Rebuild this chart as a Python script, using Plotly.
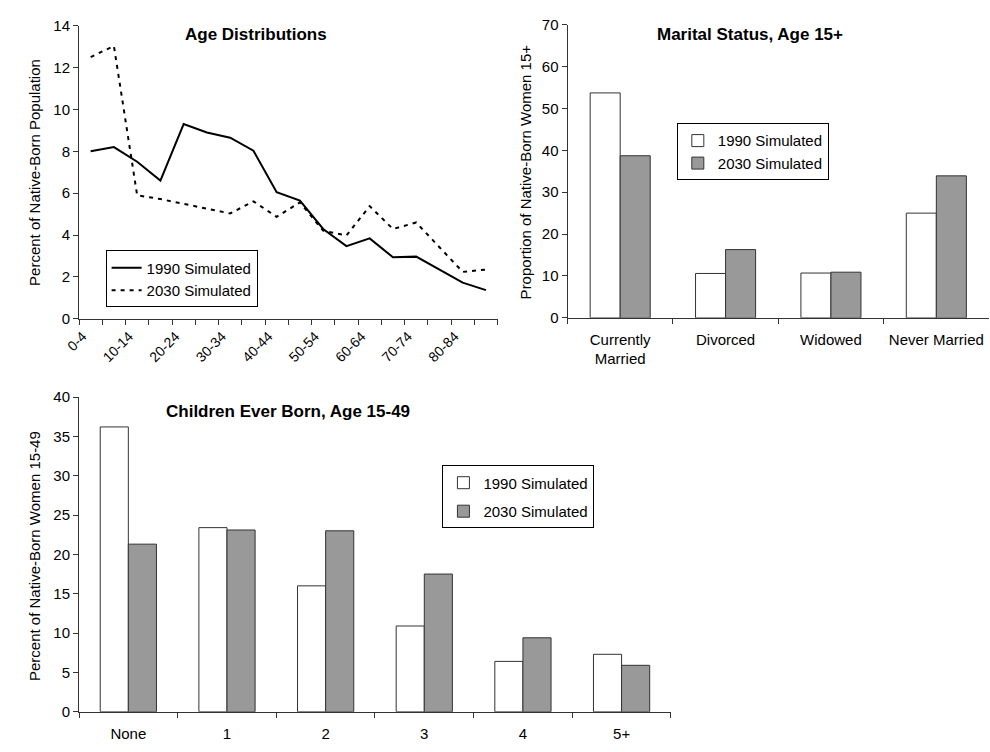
import plotly.graph_objects as go

W, H = 990, 752
FONT = "Liberation Sans, Arial, sans-serif"
AXIS_COLOR = "#333333"
BAR_GREY = "#999999"

# ---- Age distributions (percent of native-born population) ----
age_groups = ["0-4", "5-9", "10-14", "15-19", "20-24", "25-29", "30-34", "35-39",
              "40-44", "45-49", "50-54", "55-59", "60-64", "65-69", "70-74",
              "75-79", "80-84", "85-89"]
age_1990 = [8.0, 8.2, 7.5, 6.6, 9.3, 8.9, 8.65, 8.03, 6.05, 5.65, 4.29, 3.47,
            3.84, 2.94, 2.97, 2.35, 1.73, 1.37]
age_2030 = [12.5, 13.03, 5.9, 5.72, 5.49, 5.26, 5.03, 5.61, 4.87, 5.56, 4.21,
            3.98, 5.38, 4.29, 4.6, 3.42, 2.24, 2.35]
# every other age group is labelled
age_ticktext = [g if i % 2 == 0 else "" for i, g in enumerate(age_groups)]

# ---- Marital status, women 15+ ----
marital_status = ["Currently Married", "Divorced", "Widowed", "Never Married"]
marital_ticktext = ["Currently<br>Married", "Divorced", "Widowed", "Never Married"]
marital_1990 = [53.7, 10.6, 10.7, 25.0]
marital_2030 = [38.7, 16.3, 10.9, 33.9]

# ---- Children ever born, women 15-49 ----
ceb_groups = ["None", "1", "2", "3", "4", "5+"]
ceb_1990 = [36.2, 23.4, 16.0, 10.9, 6.4, 7.3]
ceb_2030 = [21.3, 23.1, 23.0, 17.5, 9.4, 5.9]

series_names = ["1990 Simulated", "2030 Simulated"]


def px_x(p):
    return p / W


def px_y(p):
    return 1 - p / H


fig = go.Figure()

# Line chart
fig.add_trace(go.Scatter(x=age_groups, y=age_1990, name=series_names[0], mode="lines",
                         line=dict(color="black", width=2), xaxis="x", yaxis="y",
                         legend="legend"))
fig.add_trace(go.Scatter(x=age_groups, y=age_2030, name=series_names[1], mode="lines",
                         line=dict(color="black", width=2, dash="4px,5px"),
                         xaxis="x", yaxis="y", legend="legend"))

# Marital status bars
fig.add_trace(go.Bar(x=marital_status, y=marital_1990, name=series_names[0],
                     marker=dict(color="white", line=dict(color=AXIS_COLOR, width=1)),
                     xaxis="x2", yaxis="y2", legend="legend2"))
fig.add_trace(go.Bar(x=marital_status, y=marital_2030, name=series_names[1],
                     marker=dict(color=BAR_GREY, line=dict(color=AXIS_COLOR, width=1)),
                     xaxis="x2", yaxis="y2", legend="legend2"))

# Children ever born bars
fig.add_trace(go.Bar(x=ceb_groups, y=ceb_1990, name=series_names[0],
                     marker=dict(color="white", line=dict(color=AXIS_COLOR, width=1)),
                     xaxis="x3", yaxis="y3", legend="legend3", legendgroup="a"))
fig.add_trace(go.Bar(x=ceb_groups, y=ceb_2030, name=series_names[1],
                     marker=dict(color=BAR_GREY, line=dict(color=AXIS_COLOR, width=1)),
                     xaxis="x3", yaxis="y3", legend="legend3", legendgroup="b"))

common = dict(showline=True, linecolor=AXIS_COLOR, linewidth=1, ticks="outside",
              ticklen=5, tickcolor=AXIS_COLOR, tickwidth=1, showgrid=False,
              zeroline=False, tickfont=dict(family=FONT, size=15, color="black"))

legend_style = dict(xanchor="left", yanchor="top", bgcolor="white",
                    bordercolor="black", borderwidth=1, itemwidth=30,
                    font=dict(family=FONT, size=15, color="black"))

fig.update_layout(
    width=W, height=H, margin=dict(l=0, r=0, t=0, b=0),
    paper_bgcolor="white", plot_bgcolor="white",
    font=dict(family=FONT, size=15, color="black"),
    barmode="group", bargap=0.43, bargroupgap=0,
    xaxis=dict(common, type="category", categoryorder="array", categoryarray=age_groups,
               domain=[px_x(65), px_x(490)], anchor="y", tickson="boundaries",
               tickmode="array", tickvals=age_groups, ticktext=age_ticktext,
               tickangle=-45, range=[-0.5, 17.5], ticklabelshift=-8,
               ticklabelstandoff=3,
               tickfont=dict(family=FONT, size=14, color="black")),
    yaxis=dict(common, domain=[px_y(317), px_y(17)], anchor="x", range=[0, 14], dtick=2),
    xaxis2=dict(common, type="category", domain=[px_x(561), px_x(989)], anchor="y2",
                tickson="boundaries", tickmode="array", tickvals=marital_status,
                ticktext=marital_ticktext, tickangle=0, range=[-0.5, 3.5],
                ticklabelstandoff=8),
    yaxis2=dict(common, domain=[px_y(316), px_y(16)], anchor="x2", range=[0, 70], dtick=10),
    xaxis3=dict(common, type="category", domain=[px_x(65), px_x(666)], anchor="y3",
                tickson="boundaries", tickangle=0, range=[-0.5, 5.5],
                ticklabelstandoff=8),
    yaxis3=dict(common, domain=[px_y(719), px_y(397)], anchor="x3", range=[0, 40], dtick=5),
    legend=dict(legend_style, x=px_x(92), y=px_y(247), tracegroupgap=0),
    legend2=dict(legend_style, x=px_x(672), y=px_y(117)),
    legend3=dict(legend_style, x=px_x(434), y=px_y(467),
                 traceorder="grouped", tracegroupgap=6),
)

titles = [
    ("<b>Age Distributions</b>", 245, 26),
    ("<b>Marital Status, Age 15+</b>", 746, 26),
    ("<b>Children Ever Born, Age 15-49</b>", 277, 412),
]
for text, cx, cy in titles:
    fig.add_annotation(text=text, x=px_x(cx), y=px_y(cy), xref="paper", yref="paper",
                       xanchor="center", yanchor="middle", showarrow=False,
                       font=dict(family=FONT, size=17, color="black"))

y_titles = [
    ("Percent of Native-Born Population", 20, 167),
    ("Proportion of Native-Born Women 15+", 518, 167),
    ("Percent of Native-Born Women 15-49", 20, 560),
]
for text, cx, cy in y_titles:
    fig.add_annotation(text=text, x=px_x(cx), y=px_y(cy), xref="paper", yref="paper",
                       xanchor="center", yanchor="middle", showarrow=False, textangle=-90,
                       font=dict(family=FONT, size=15, color="black"))

fig.write_html("out.html")
